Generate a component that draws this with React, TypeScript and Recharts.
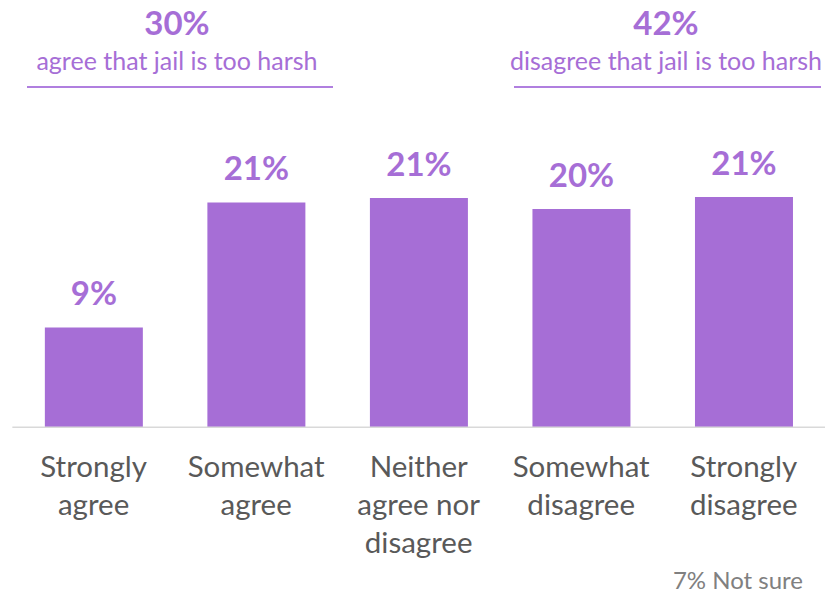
import React from "react";
import { BarChart, Bar, XAxis, YAxis, LabelList } from "recharts";

const categories = ["Strongly agree", "Somewhat agree", "Neither agree nor disagree", "Somewhat disagree", "Strongly disagree"];
const tickLines = [["Strongly", "agree"], ["Somewhat", "agree"], ["Neither", "agree nor", "disagree"], ["Somewhat", "disagree"], ["Strongly", "disagree"]];
const values = [9.1, 20.5, 20.9, 19.9, 21.0];
const labels = ["9%", "21%", "21%", "20%", "21%"];
const groupTotals = ["30%", "42%"];
const groupTexts = ["agree that jail is too harsh", "disagree that jail is too harsh"];
const footnote = "7% Not sure";

const data = categories.map((c, i) => ({ name: c, value: values[i], label: labels[i] }));

const FONT = "Lato, 'Open Sans', sans-serif";
const PURPLE = "#A66ED6";

const Tick = (props: any) => {
  const { x, y, payload } = props;
  const lines = tickLines[payload.index] || [payload.value];
  return (
    <text x={x} y={y} textAnchor="middle" fill="#595959" fontSize={29.5} fontFamily={FONT}>
      {lines.map((l: string, i: number) => (
        <tspan key={i} x={x} y={y + 42 + i * 38}>{l}</tspan>
      ))}
    </text>
  );
};

export default function App() {
  return (
    <div style={{ position: "absolute", left: 0, top: 0, width: 825, height: 594, background: "#fff", overflow: "hidden", fontFamily: FONT }}>
      <BarChart width={825} height={594} data={data} margin={{ top: 98.2, right: 0, left: 12.35, bottom: 0 }} barCategoryGap="20%">
        <XAxis dataKey="name" axisLine={{ stroke: "#D9D9D9", strokeWidth: 1.5 }} tickLine={false} height={166.7} tick={<Tick />} interval={0} />
        <YAxis hide domain={[0, 30]} />
        <Bar dataKey="value" fill={PURPLE} isAnimationActive={false}>
          <LabelList dataKey="label" position="top" offset={22} fill={PURPLE} fontSize={33} fontWeight={700} fontFamily={FONT} />
        </Bar>
      </BarChart>
      {[{ cx: 177, w: 306.6, x0: 26.7 }, { cx: 666, w: 307, x0: 514.3 }].map((g, i) => (
        <React.Fragment key={i}>
          <div style={{ position: "absolute", left: g.cx - 200, width: 400, top: 2, textAlign: "center", color: PURPLE, fontSize: 33, fontWeight: 700, lineHeight: "40px" }}>{groupTotals[i]}</div>
          <div style={{ position: "absolute", left: g.cx - 200, width: 400, top: 45, textAlign: "center", color: PURPLE, fontSize: 25, lineHeight: "30px" }}>{groupTexts[i]}</div>
          <div style={{ position: "absolute", left: g.x0, width: g.w, top: 86.3, height: 2, background: "#B07FDF" }} />
        </React.Fragment>
      ))}
      <div style={{ position: "absolute", right: 22, top: 567, color: "#808080", fontSize: 24, lineHeight: "26px" }}>{footnote}</div>
    </div>
  );
}
